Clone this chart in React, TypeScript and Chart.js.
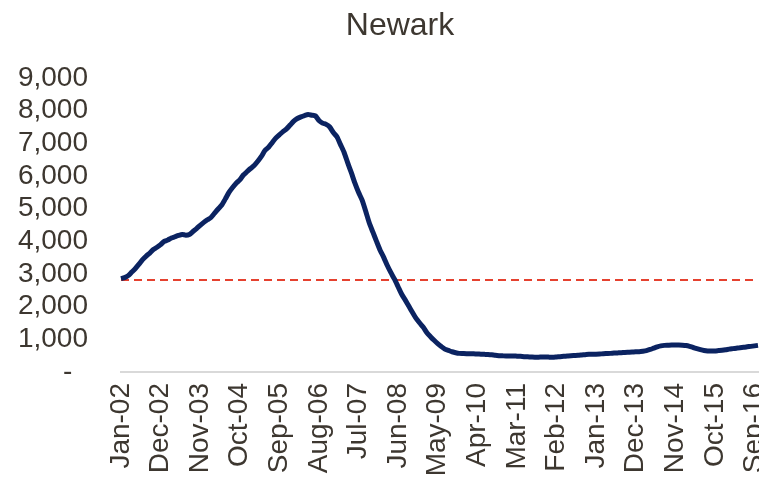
import React, { useEffect, useRef } from "react";
import { Chart, registerables } from "chart.js";

Chart.register(...registerables);

const TITLE = "Newark";
const MONTH_NAMES = ["Jan", "Feb", "Mar", "Apr", "May", "Jun", "Jul", "Aug", "Sep", "Oct", "Nov", "Dec"];
const START_YEAR = 2002;
const LABEL_STEP = 11;

// Monthly values, Jan-02 .. Oct-16
const newarkValues = [
  2860, 2890, 2950, 3060, 3170, 3300, 3440, 3550, 3640, 3750, 3820, 3900,
  4000, 4040, 4100, 4140, 4180, 4210, 4190, 4210, 4300, 4390, 4490, 4580,
  4660, 4730, 4860, 4990, 5110, 5300, 5500, 5650, 5780, 5880, 6030, 6130,
  6230, 6320, 6450, 6600, 6780, 6880, 7020, 7160, 7260, 7360, 7440, 7560,
  7680, 7760, 7810, 7850, 7880, 7860, 7840, 7700, 7620, 7580, 7500, 7330,
  7200, 6960, 6720, 6400, 6100, 5780, 5500, 5260, 4920, 4560, 4280, 4000,
  3730, 3510, 3260, 3040, 2840, 2610, 2380, 2200, 2010, 1820, 1640, 1500,
  1370, 1200, 1080, 970, 870, 780, 700, 660, 620, 590, 570, 565,
  560, 560, 555, 550, 545, 540, 535, 525, 510, 500, 495, 490,
  490, 490, 485, 480, 470, 465, 460, 455, 455, 460, 460, 455,
  450, 460, 470, 480, 490, 500, 505, 510, 520, 530, 540, 545,
  545, 550, 560, 565, 570, 580, 585, 590, 600, 605, 610, 620,
  620, 635, 655, 690, 730, 770, 800, 815, 820, 825, 825, 825,
  820, 810, 785, 750, 715, 685, 660, 645, 640, 645, 655, 665,
  680, 700, 715, 730, 745, 755, 770, 785, 800, 815,
];

const THRESHOLD = 2820;

const Y_TICKS = [0, 1000, 2000, 3000, 4000, 5000, 6000, 7000, 8000, 9000];

const labels: string[] = [];
for (let i = 0; i < newarkValues.length; i++) {
  const m = i % 12;
  const y = START_YEAR + Math.floor(i / 12);
  labels.push(`${MONTH_NAMES[m]}-${String(y % 100).padStart(2, "0")}`);
}

const TEXT_COLOR = "#3d3730";
const FONT = "'Liberation Sans', Arial, sans-serif";

export default function App() {
  const ref = useRef<HTMLCanvasElement | null>(null);

  useEffect(() => {
    document.body.style.margin = "0";
    const canvas = ref.current;
    if (!canvas) return;

    const titlePlugin = {
      id: "customTitle",
      afterDraw(chart: any) {
        const ctx = chart.ctx;
        ctx.save();
        ctx.font = `32px ${FONT}`;
        ctx.fillStyle = TEXT_COLOR;
        ctx.textAlign = "center";
        ctx.textBaseline = "middle";
        ctx.fillText(TITLE, 400, 26);
        ctx.restore();
      },
    };

    const chart = new Chart(canvas, {
      type: "line",
      data: {
        labels,
        datasets: [
          {
            label: "Newark",
            data: newarkValues,
            borderColor: "#0b2361",
            borderWidth: 5,
            pointRadius: 0,
            tension: 0.2,
            fill: false,
            order: 1,
          },
          {
            label: "Threshold",
            data: labels.map(() => THRESHOLD),
            borderColor: "#e5412f",
            borderWidth: 2,
            borderDash: [8, 5],
            pointRadius: 0,
            fill: false,
            order: 2,
          },
        ],
      },
      plugins: [titlePlugin],
      options: {
        animation: false,
        responsive: false,
        maintainAspectRatio: false,
        devicePixelRatio: 1,
        layout: { padding: { top: 78, right: 1, left: 0, bottom: 0 } },
        plugins: {
          legend: { display: false },
          title: { display: false },
          tooltip: { enabled: false },
        },
        scales: {
          x: {
            type: "category",
            offset: false,
            grid: { display: false, drawTicks: false },
            border: { display: true, color: "#d9d9d9", width: 2 },
            ticks: {
              autoSkip: false,
              minRotation: 90,
              maxRotation: 90,
              padding: 11,
              color: TEXT_COLOR,
              font: { family: FONT, size: 28 },
              callback: (_v: any, i: number) => (i % LABEL_STEP === 0 ? labels[i] : ""),
            },
            afterFit: (scale: any) => {
              scale.height = 106;
              scale.paddingLeft = 0;
              scale.paddingRight = 0;
            },
          },
          y: {
            min: 0,
            max: 9000,
            grid: { display: false, drawTicks: false },
            border: { display: false },
            afterBuildTicks: (scale: any) => {
              scale.ticks = Y_TICKS.map((v) => ({ value: v }));
            },
            ticks: {
              autoSkip: false,
              padding: 33,
              color: TEXT_COLOR,
              font: { family: FONT, size: 28 },
              callback: (v: any) => (Number(v) === 0 ? "-\u2007" : Number(v).toLocaleString("en-US")),
            },
            afterFit: (scale: any) => {
              scale.width = 121;
              scale.paddingTop = 0;
              scale.paddingBottom = 0;
            },
          },
        },
      },
    });

    return () => chart.destroy();
  }, []);

  return (
    <div style={{ position: "absolute", left: 0, top: 0, width: 759, height: 478, background: "#fff" }}>
      <canvas ref={ref} width={759} height={478} style={{ width: 759, height: 478, display: "block" }} />
    </div>
  );
}
